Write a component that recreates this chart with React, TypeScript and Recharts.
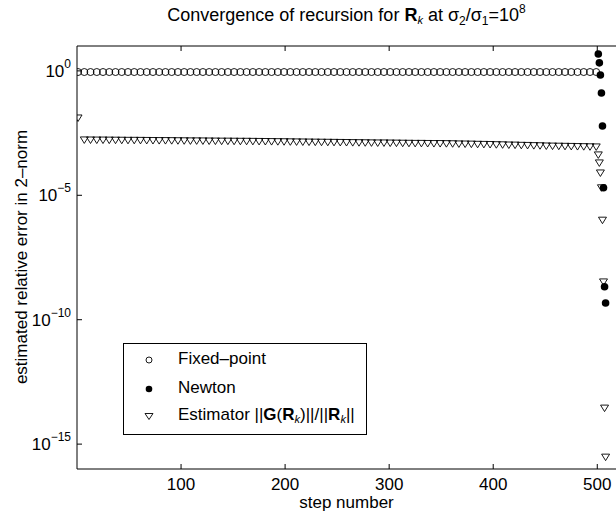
import { ScatterChart, Scatter, XAxis, YAxis } from "recharts";

// step numbers where markers are drawn during the fixed-point phase
const fixedSteps = [
  1, 7, 13, 19, 25, 31, 37, 43, 49, 55, 61, 67, 73, 79, 85, 91, 97, 103, 109, 115, 121,
  127, 133, 139, 145, 151, 157, 163, 169, 175, 181, 187, 193, 199, 205, 211, 217, 223,
  229, 235, 241, 247, 253, 259, 265, 271, 277, 283, 289, 295, 301, 307, 313, 319, 325,
  331, 337, 343, 349, 355, 361, 367, 373, 379, 385, 391, 397, 403, 409, 415, 421, 427,
  433, 439, 445, 451, 457, 463, 469, 475, 481, 487, 493, 499,
];
const fixedErr = [
  0.9, 0.9, 0.9, 0.9, 0.9, 0.9, 0.9, 0.9, 0.9, 0.9, 0.9, 0.9, 0.9, 0.9, 0.9, 0.9, 0.9,
  0.9, 0.9, 0.9, 0.9, 0.9, 0.9, 0.9, 0.9, 0.9, 0.9, 0.9, 0.9, 0.9, 0.9, 0.9, 0.9, 0.9,
  0.9, 0.9, 0.9, 0.9, 0.9, 0.9, 0.9, 0.9, 0.9, 0.9, 0.9, 0.9, 0.9, 0.9, 0.9, 0.9, 0.9,
  0.9, 0.9, 0.9, 0.9, 0.9, 0.9, 0.9, 0.9, 0.9, 0.9, 0.9, 0.9, 0.9, 0.9, 0.9, 0.9, 0.9,
  0.9, 0.9, 0.9, 0.9, 0.9, 0.9, 0.9, 0.9, 0.9, 0.9, 0.9, 0.9, 0.9, 0.9, 0.9, 0.9,
];
const fixedEst = [
  1.28e-2, 1.68e-3, 1.67e-3, 1.66e-3, 1.66e-3, 1.65e-3, 1.64e-3, 1.63e-3, 1.62e-3, 1.62e-3,
  1.61e-3, 1.6e-3, 1.59e-3, 1.58e-3, 1.58e-3, 1.57e-3, 1.56e-3, 1.55e-3, 1.54e-3, 1.54e-3,
  1.53e-3, 1.52e-3, 1.51e-3, 1.5e-3, 1.5e-3, 1.49e-3, 1.48e-3, 1.48e-3, 1.47e-3, 1.46e-3,
  1.45e-3, 1.44e-3, 1.43e-3, 1.42e-3, 1.41e-3, 1.4e-3, 1.39e-3, 1.38e-3, 1.37e-3, 1.36e-3,
  1.35e-3, 1.34e-3, 1.33e-3, 1.32e-3, 1.31e-3, 1.3e-3, 1.29e-3, 1.28e-3, 1.27e-3, 1.27e-3,
  1.26e-3, 1.25e-3, 1.24e-3, 1.23e-3, 1.22e-3, 1.22e-3, 1.21e-3, 1.2e-3, 1.2e-3, 1.19e-3,
  1.18e-3, 1.16e-3, 1.15e-3, 1.14e-3, 1.12e-3, 1.11e-3, 1.1e-3, 1.08e-3, 1.07e-3, 1.05e-3,
  1.04e-3, 1.02e-3, 1.01e-3, 9.9e-4, 9.8e-4, 9.6e-4, 9.5e-4, 9.4e-4, 9.3e-4, 9.2e-4,
  9.1e-4, 9.0e-4, 8.9e-4, 8.8e-4,
];

const newtonSteps = [501, 502, 503, 504, 505, 506, 507, 508];
const newtonErr = [4.8, 2.1, 0.68, 0.13, 6.1e-3, 2e-5, 2.1e-9, 4.7e-10];
const newtonEst = [4.2e-4, 2e-4, 7.9e-5, 2e-5, 1e-6, 3.3e-9, 2.8e-14, 3e-16];

const xTicks = [100, 200, 300, 400, 500];
const yTicks = [1e-15, 1e-10, 1e-5, 1];

const FONT = "'Liberation Sans', Arial, Helvetica, sans-serif";

const fixedData = fixedSteps.map((s, i) => ({ step: s, err: fixedErr[i] }));
const newtonData = newtonSteps.map((s, i) => ({ step: s, err: newtonErr[i] }));
const estData = [
  ...fixedSteps.map((s, i) => ({ step: s, err: fixedEst[i] })),
  ...newtonSteps.map((s, i) => ({ step: s, err: newtonEst[i] })),
];

const OpenCircle = (p: any) => (
  <circle cx={p.cx} cy={p.cy} r={3.5} fill="none" stroke="#000" strokeWidth={0.9} />
);
const Dot = (p: any) => <circle cx={p.cx} cy={p.cy} r={3.8} fill="#000" />;
const DownTriangle = (p: any) => (
  <polygon
    points={`${p.cx - 4},${p.cy - 3} ${p.cx + 4},${p.cy - 3} ${p.cx},${p.cy + 3.5}`}
    fill="none"
    stroke="#000"
    strokeWidth={0.9}
  />
);

const BottomTick = ({ x, y, payload }: any) => (
  <g>
    <line x1={x} y1={y} x2={x} y2={y - 5} stroke="#000" />
    <text x={x} y={y + 21} textAnchor="middle" fontSize={17} fontFamily={FONT} fill="#000">
      {payload.value}
    </text>
  </g>
);

const TopTick = ({ x, y }: any) => <line x1={x} y1={y} x2={x} y2={y + 5} stroke="#000" />;

const LeftTick = ({ x, y, payload }: any) => {
  const e = Math.round(Math.log10(payload.value));
  const sup = e < 0 ? `\u2212${-e}` : `${e}`;
  return (
    <g>
      <line x1={x} y1={y} x2={x + 5} y2={y} stroke="#000" />
      <text x={x - 6} y={y + 6} textAnchor="end" fontSize={17} fontFamily={FONT} fill="#000">
        <tspan>10</tspan>
        <tspan dy={-9} fontSize={12}>
          {sup}
        </tspan>
      </text>
    </g>
  );
};

const LegendMarker = ({ kind }: { kind: string }) => (
  <svg width={12} height={12} style={{ position: "absolute", left: 19, top: 7 }}>
    {kind === "o" && <circle cx={6} cy={6} r={3} fill="none" stroke="#000" strokeWidth={0.9} />}
    {kind === "." && <circle cx={6} cy={6} r={3.3} fill="#000" />}
    {kind === "v" && (
      <polygon points="2,3.5 10,3.5 6,9.5" fill="none" stroke="#000" strokeWidth={0.9} />
    )}
  </svg>
);

const sub = { fontSize: 11, fontStyle: "italic" as const, verticalAlign: "-3px" };

export default function App() {
  return (
    <div
      style={{
        position: "absolute",
        left: 0,
        top: 0,
        width: 616,
        height: 516,
        background: "#fff",
        fontFamily: FONT,
        color: "#000",
      }}
    >
      <ScatterChart width={616} height={516} margin={{ top: 16, right: 0, bottom: 0, left: 0 }}>
        <XAxis
          xAxisId="bottom"
          type="number"
          dataKey="step"
          domain={[0, 518]}
          ticks={xTicks}
          allowDataOverflow
          height={47}
          tickSize={0}
          tickMargin={0}
          tickLine={false}
          tick={<BottomTick />}
          axisLine={{ stroke: "#000" }}
        />
        <XAxis
          xAxisId="top"
          orientation="top"
          type="number"
          dataKey="step"
          domain={[0, 518]}
          ticks={xTicks}
          allowDataOverflow
          height={30}
          tickSize={0}
          tickMargin={0}
          tickLine={false}
          tick={<TopTick />}
          axisLine={{ stroke: "#000" }}
        />
        <YAxis
          type="number"
          dataKey="err"
          scale="log"
          domain={[1e-16, 10]}
          ticks={yTicks}
          allowDataOverflow
          width={77}
          tickSize={0}
          tickMargin={0}
          tickLine={false}
          tick={<LeftTick />}
          axisLine={{ stroke: "#000" }}
        />
        <Scatter
          xAxisId="bottom"
          data={fixedData}
          shape={<OpenCircle />}
          isAnimationActive={false}
        />
        <Scatter xAxisId="bottom" data={newtonData} shape={<Dot />} isAnimationActive={false} />
        <Scatter
          xAxisId="bottom"
          data={estData}
          shape={<DownTriangle />}
          isAnimationActive={false}
        />
      </ScatterChart>

      <div
        style={{
          position: "absolute",
          left: 77,
          width: 539,
          top: 2,
          textAlign: "center",
          fontSize: 18,
          whiteSpace: "nowrap",
        }}
      >
        Convergence of recursion for <b>R</b>
        <span style={sub}>k</span> at σ<span style={{ fontSize: 12, verticalAlign: "-4px" }}>2</span>/σ
        <span style={{ fontSize: 12, verticalAlign: "-4px" }}>1</span>=10
        <span style={{ fontSize: 12, verticalAlign: "8px" }}>8</span>
      </div>

      <div
        style={{
          position: "absolute",
          left: 22,
          top: 257,
          transform: "translate(-50%, -50%) rotate(-90deg)",
          fontSize: 17,
          whiteSpace: "nowrap",
        }}
      >
        estimated relative error in 2–norm
      </div>

      <div
        style={{
          position: "absolute",
          left: 77,
          width: 539,
          top: 494,
          textAlign: "center",
          fontSize: 17,
          lineHeight: "18px",
          whiteSpace: "nowrap",
        }}
      >
        step number
      </div>

      <div
        style={{
          position: "absolute",
          left: 123,
          top: 343,
          width: 244,
          height: 92,
          boxSizing: "border-box",
          border: "1px solid #000",
          background: "#fff",
          fontSize: 17,
          whiteSpace: "nowrap",
        }}
      >
        {[
          { kind: "o", top: 3, label: <>Fixed–point</> },
          { kind: ".", top: 32, label: <>Newton</> },
          {
            kind: "v",
            top: 59,
            label: (
              <>
                Estimator ||<b>G</b>(<b>R</b>
                <span style={sub}>k</span>)||/||<b>R</b>
                <span style={sub}>k</span>||
              </>
            ),
          },
        ].map((row) => (
          <div key={row.kind} style={{ position: "absolute", left: 0, top: row.top, height: 26, width: "100%" }}>
            <LegendMarker kind={row.kind} />
            <span style={{ position: "absolute", left: 54, top: 2 }}>{row.label}</span>
          </div>
        ))}
      </div>
    </div>
  );
}
